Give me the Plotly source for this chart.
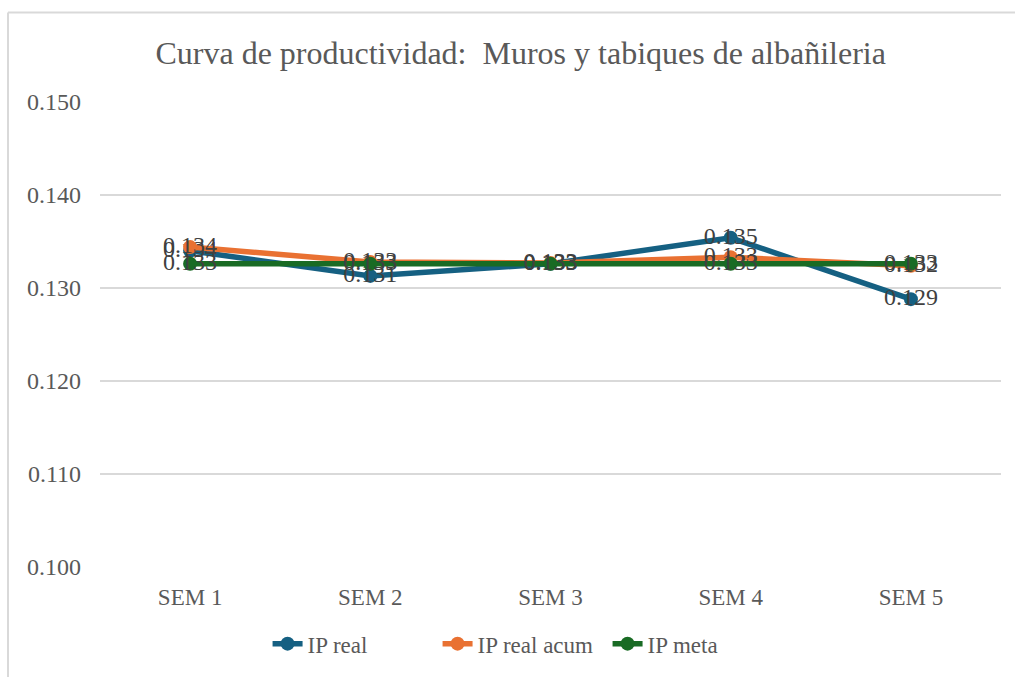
import plotly.graph_objects as go

# Semanas evaluadas
semanas = ["SEM 1", "SEM 2", "SEM 3", "SEM 4", "SEM 5"]

# Índice de productividad (HH/m2)
ip_real = [0.1340, 0.1313, 0.1326, 0.1354, 0.1288]
ip_real_acum = [0.1344, 0.1328, 0.1327, 0.1333, 0.1324]
ip_meta = [0.1326, 0.1326, 0.1326, 0.1326, 0.1326]

series = [
    ("IP real", ip_real, "#156082"),
    ("IP real acum", ip_real_acum, "#E97132"),
    ("IP meta", ip_meta, "#196B24"),
]

FONT = "Liberation Serif"

fig = go.Figure()
for nombre, valores, color in series:
    fig.add_trace(go.Scatter(
        x=semanas,
        y=valores,
        name=nombre,
        mode="lines+markers+text",
        line=dict(color=color, width=5.5),
        marker=dict(color=color, size=14),
        text=[f"{v:.3f}" for v in valores],
        textposition="middle center",
        textfont=dict(family=FONT, size=24, color="#404040"),
        cliponaxis=False,
    ))

fig.update_layout(
    width=1015,
    height=677,
    margin=dict(l=100, r=14, t=102, b=107),
    paper_bgcolor="white",
    plot_bgcolor="white",
    font=dict(family=FONT, color="#595959"),
    title=dict(
        text="Curva de productividad:  Muros y tabiques de albañileria",
        x=0.513, xanchor="center",
        y=0.922, yanchor="middle",
        font=dict(family=FONT, size=32, color="#595959"),
    ),
    xaxis=dict(
        showgrid=False, zeroline=False, showline=False,
        ticks="", tickfont=dict(family=FONT, size=23, color="#595959"),
        range=[-0.5, 4.5],
        ticklabelstandoff=14,
    ),
    yaxis=dict(
        range=[0.1, 0.15],
        dtick=0.01,
        tickformat=".3f",
        showgrid=True, gridcolor="#D9D9D9", gridwidth=1.5,
        zeroline=False, showline=False, ticks="",
        tickfont=dict(family=FONT, size=24, color="#595959"),
        ticklabelstandoff=18,
    ),
    legend=dict(
        orientation="h",
        x=0.469, xanchor="center",
        y=-0.165, yanchor="middle",
        font=dict(family=FONT, size=23, color="#595959"),
        traceorder="normal",
        entrywidth=125,
    ),
    shapes=[
        dict(type="line", xref="paper", yref="paper",
             x0=-0.1021, x1=1.2, y0=1.1923, y1=1.1923,
             line=dict(color="#D9D9D9", width=2)),
        dict(type="line", xref="paper", yref="paper",
             x0=-0.1021, x1=-0.1021, y0=1.1923, y1=-0.3,
             line=dict(color="#D9D9D9", width=2)),
    ],
)

fig.write_html("out.html")
